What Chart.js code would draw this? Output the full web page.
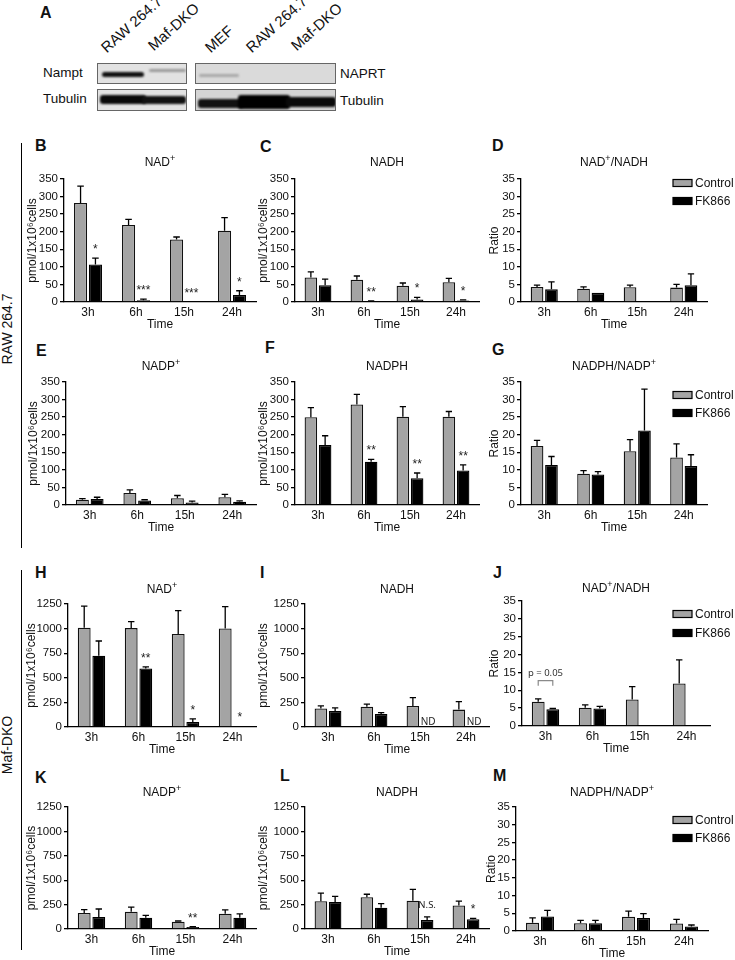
<!DOCTYPE html>
<html>
<head>
<meta charset="utf-8">
<script src="https://cdn.jsdelivr.net/npm/chart.js@4.4.0/dist/chart.umd.min.js"></script>
<style>
  body { margin: 0; background: #fff; }
  #fig { position: relative; width: 735px; height: 960px; overflow: hidden;
         font-family: "Liberation Sans", Arial, sans-serif; color: #111; }
  #fig canvas { position: absolute; }
  .tag { position: absolute; font-weight: bold; font-size: 16px; line-height: 1; }
  .lane { position: absolute; font-size: 15px; line-height: 1; white-space: nowrap;
          transform-origin: 0 100%; transform: rotate(-42deg); }
  .blotlbl { position: absolute; font-size: 13.5px; line-height: 1; white-space: nowrap; }
  .box { position: absolute; border: 1px solid #666; overflow: hidden; box-sizing: border-box; }
  .band { position: absolute; border-radius: 3px; filter: blur(0.8px); }
  .rowlbl { position: absolute; font-size: 14px; line-height: 1; white-space: nowrap;
            transform: translate(-50%, -50%) rotate(-90deg); }
  .vline { position: absolute; width: 1.3px; background: #000; }
</style>
</head>
<body>
<div id="fig">
  <!-- panel A: western blot -->
  <div class="tag" style="left:40px;top:5px">A</div>
  <div class="lane" style="left:108px;top:40px">RAW 264.7</div>
  <div class="lane" style="left:155px;top:38px">Maf-DKO</div>
  <div class="lane" style="left:212px;top:40px">MEF</div>
  <div class="lane" style="left:253px;top:40px">RAW 264.7</div>
  <div class="lane" style="left:298px;top:38px">Maf-DKO</div>
  <div class="blotlbl" style="left:43px;top:66px">Nampt</div>
  <div class="blotlbl" style="left:43px;top:92px">Tubulin</div>
  <div class="blotlbl" style="left:340px;top:67px">NAPRT</div>
  <div class="blotlbl" style="left:340px;top:94px">Tubulin</div>

  <div class="box" style="left:97px;top:63px;width:90px;height:21px;background:#e2e2e2">
    <div class="band" style="left:4px;top:8px;width:42px;height:5px;background:#111"></div>
    <div class="band" style="left:51px;top:5px;width:37px;height:3px;background:#9a9a9a"></div>
  </div>
  <div class="box" style="left:195px;top:63px;width:141px;height:21px;background:#dadada">
    <div class="band" style="left:3px;top:10px;width:40px;height:3px;background:#a8a8a8"></div>
  </div>
  <div class="box" style="left:97px;top:89px;width:90px;height:22px;background:#e2e2e2">
    <div class="band" style="left:2px;top:5px;width:46px;height:9px;background:#080808"></div>
    <div class="band" style="left:44px;top:6px;width:44px;height:8px;background:#111"></div>
  </div>
  <div class="box" style="left:195px;top:89px;width:141px;height:22px;background:#d4d4d4">
    <div class="band" style="left:2px;top:9px;width:45px;height:9px;background:#111"></div>
    <div class="band" style="left:42px;top:5px;width:52px;height:14px;background:#000"></div>
    <div class="band" style="left:90px;top:7px;width:50px;height:10px;background:#0a0a0a"></div>
  </div>

  <!-- row labels -->
  <div class="vline" style="left:21px;top:143px;height:405px"></div>
  <div class="rowlbl" style="left:7px;top:329px">RAW 264.7</div>
  <div class="vline" style="left:21px;top:570px;height:380px"></div>
  <div class="rowlbl" style="left:7px;top:745px">Maf-DKO</div>

  <!-- panel letters -->
  <div class="tag" style="left:35px;top:138px">B</div>
  <div class="tag" style="left:260px;top:139px">C</div>
  <div class="tag" style="left:492px;top:138px">D</div>
  <div class="tag" style="left:36px;top:343px">E</div>
  <div class="tag" style="left:265px;top:340px">F</div>
  <div class="tag" style="left:492px;top:342px">G</div>
  <div class="tag" style="left:35px;top:565px">H</div>
  <div class="tag" style="left:260px;top:565px">I</div>
  <div class="tag" style="left:493px;top:565px">J</div>
  <div class="tag" style="left:35px;top:770px">K</div>
  <div class="tag" style="left:280px;top:768px">L</div>
  <div class="tag" style="left:493px;top:768px">M</div>
</div>

<script>
const FONT = '"Liberation Sans", Arial, sans-serif';
Chart.defaults.font.family = FONT;

// categories / series
const timeLabels = ['3h', '6h', '15h', '24h'];
const seriesNames = ['Control', 'FK866'];
const pmolTitle = 'pmol/1x10⁶cells';
const ratioTitle = 'Ratio';

// RAW 264.7
const rawNadCtrl = [282, 219, 178, 203];
const rawNadCtrlErr = [48, 16, 7, 37];
const rawNadFk = [107, 5, 1, 20];
const rawNadFkErr = [18, 3, 0, 12];
const rawNadMarks = ['*', '***', '***', '*'];

const rawNadhCtrl = [70, 63, 46, 56];
const rawNadhCtrlErr = [16, 11, 8, 11];
const rawNadhFk = [48, 2, 7, 4];
const rawNadhFkErr = [17, 1, 6, 2];
const rawNadhMarks = ['', '**', '*', '*'];

const rawNadRatioCtrl = [4.3, 3.8, 4.2, 4.1];
const rawNadRatioCtrlErr = [0.5, 0.5, 0.6, 0.9];
const rawNadRatioFk = [3.6, 2.6, null, 4.8];
const rawNadRatioFkErr = [2.1, 0, 0, 3.2];

const rawNadpCtrl = [15, 34, 19, 22];
const rawNadpCtrlErr = [3, 9, 8, 8];
const rawNadpFk = [17, 13, 7, 9];
const rawNadpFkErr = [5, 2, 4, 3];

const rawNadphCtrl = [250, 286, 251, 251];
const rawNadphCtrlErr = [27, 29, 29, 15];
const rawNadphFk = [171, 123, 76, 98];
const rawNadphFkErr = [26, 7, 15, 16];
const rawNadphMarks = ['', '**', '**', '**'];

const rawNadpRatioCtrl = [16.8, 8.9, 15.3, 13.5];
const rawNadpRatioCtrlErr = [1.6, 0.9, 3.3, 3.9];
const rawNadpRatioFk = [11.4, 8.7, 21.2, 11.1];
const rawNadpRatioFkErr = [2.4, 0.8, 11.8, 3.2];

// Maf-DKO
const mafNadCtrl = [1009, 1005, 946, 1002];
const mafNadCtrlErr = [220, 66, 236, 221];
const mafNadFk = [724, 594, 51, 7];
const mafNadFkErr = [150, 17, 31, 0];
const mafNadMarks = ['', '**', '*', '*'];

const mafNadhCtrl = [188, 206, 214, 177];
const mafNadhCtrlErr = [27, 27, 85, 81];
const mafNadhFk = [163, 132, null, null];
const mafNadhFkErr = [31, 14, 0, 0];
const mafNadhMarks = ['', '', 'ND', 'ND'];

const mafNadRatioCtrl = [6.8, 5.1, 7.4, 11.9];
const mafNadRatioCtrlErr = [0.8, 0.8, 3.6, 6.6];
const mafNadRatioFk = [4.7, 4.9, null, null];
const mafNadRatioFkErr = [0.2, 0.6, 0, 0];
const mafPValueText = 'p = 0.05';
const mafPValueLevel = 12.7;

const mafNadpCtrl = [164, 178, 75, 157];
const mafNadpCtrlErr = [34, 47, 7, 38];
const mafNadpFk = [124, 116, 20, 116];
const mafNadpFkErr = [81, 24, 4, 38];
const mafNadpMarks = ['', '', '**', ''];

const mafNadphCtrl = [284, 326, 289, 242];
const mafNadphCtrlErr = [84, 30, 116, 44];
const mafNadphFk = [277, 219, 91, 101];
const mafNadphFkErr = [57, 40, 34, 7];
const mafNadphMarks = ['', '', 'N.S.', '*'];

const mafNadpRatioCtrl = [2.3, 2.2, 4.0, 2.1];
const mafNadpRatioCtrlErr = [1.4, 0.8, 1.6, 1.2];
const mafNadpRatioFk = [4.1, 2.2, 3.7, 1.3];
const mafNadpRatioFkErr = [1.7, 0.8, 1.2, 0.4];

// draws one-sided (upward) SEM bars
const errorBars = {
  id: 'errorBars',
  afterDatasetsDraw(chart) {
    const { ctx } = chart;
    const y = chart.scales.y;
    ctx.save();
    ctx.strokeStyle = '#000';
    ctx.lineWidth = 1.3;
    chart.data.datasets.forEach((ds, i) => {
      chart.getDatasetMeta(i).data.forEach((bar, j) => {
        const v = ds.data[j], e = ds.errors[j];
        if (v == null || !e) return;
        const top = y.getPixelForValue(v + e);
        const half = bar.width / 4;
        ctx.beginPath();
        ctx.moveTo(bar.x, bar.y);
        ctx.lineTo(bar.x, top);
        ctx.moveTo(bar.x - half, top);
        ctx.lineTo(bar.x + half, top);
        ctx.stroke();
      });
    });
    ctx.restore();
  }
};

// stars, N.S., ND over the FK866 bars
const markText = {
  id: 'markText',
  afterDatasetsDraw(chart) {
    const ds = chart.data.datasets[1];
    if (!ds.marks) return;
    const { ctx } = chart;
    const y = chart.scales.y;
    const meta0 = chart.getDatasetMeta(0);
    ctx.save();
    ctx.fillStyle = '#222';
    ctx.textAlign = 'center';
    ctx.textBaseline = 'alphabetic';
    chart.getDatasetMeta(1).data.forEach((bar, j) => {
      const m = ds.marks[j];
      if (!m) return;
      let x = bar.x;
      if (!isFinite(x)) x = meta0.data[j].x + meta0.data[j].width + 2;
      const v = ds.data[j];
      if (m === 'ND') {
        ctx.font = '10px "Noto Sans", sans-serif';
        ctx.fillText(m, x + 1, y.getPixelForValue(0) - 2);
      } else if (m === 'N.S.') {
        ctx.font = '9.5px "Noto Sans", sans-serif';
        ctx.fillText(m, x, y.getPixelForValue(v + ds.errors[j]) - 9);
      } else {
        ctx.font = '12px ' + FONT;
        ctx.fillText(m, x, y.getPixelForValue(v + ds.errors[j]) - 5);
      }
    });
    ctx.restore();
  }
};

// p-value bracket (panel J)
const bracket = {
  id: 'bracket',
  afterDatasetsDraw(chart, args, opts) {
    if (!opts.show) return;
    const { ctx } = chart;
    const y = chart.scales.y;
    const a = chart.getDatasetMeta(0).data[opts.index];
    const b = chart.getDatasetMeta(1).data[opts.index];
    const yb = y.getPixelForValue(opts.value);
    ctx.save();
    ctx.strokeStyle = '#8a8a8a';
    ctx.lineWidth = 1.2;
    ctx.beginPath();
    ctx.moveTo(a.x, yb + 5);
    ctx.lineTo(a.x, yb);
    ctx.lineTo(b.x, yb);
    ctx.lineTo(b.x, yb + 5);
    ctx.stroke();
    ctx.fillStyle = '#333';
    ctx.font = '9.5px "Noto Sans", sans-serif';
    ctx.textAlign = 'center';
    ctx.fillText(opts.text, (a.x + b.x) / 2, yb - 5);
    ctx.restore();
  }
};

// panel title with real superscript "+" (written as ^+)
const supTitle = {
  id: 'supTitle',
  afterDraw(chart, args, opts) {
    const { ctx, chartArea } = chart;
    const parts = opts.text.split(/(\^.)/).filter(Boolean);
    const big = '12px ' + FONT, small = '9px ' + FONT;
    let total = 0;
    parts.forEach(s => {
      ctx.font = s[0] === '^' ? small : big;
      total += ctx.measureText(s[0] === '^' ? s.slice(1) : s).width;
    });
    let x = (chartArea.left + chartArea.right) / 2 - total / 2;
    const base = opts.y + 4.5;
    ctx.save();
    ctx.fillStyle = '#111';
    ctx.textAlign = 'left';
    ctx.textBaseline = 'alphabetic';
    parts.forEach(s => {
      const sup = s[0] === '^';
      const t = sup ? s.slice(1) : s;
      ctx.font = sup ? small : big;
      ctx.fillText(t, x, sup ? base - 5 : base);
      x += ctx.measureText(t).width;
    });
    ctx.restore();
  }
};

// small legend in the upper right of the ratio panels
const sideLegend = {
  id: 'sideLegend',
  afterDraw(chart, args, opts) {
    if (!opts.show) return;
    const { ctx, chartArea } = chart;
    ctx.save();
    ctx.font = '12px ' + FONT;
    ctx.textBaseline = 'middle';
    chart.data.datasets.forEach((ds, i) => {
      const cy = chartArea.top + opts.rows[i];
      ctx.fillStyle = ds.backgroundColor;
      ctx.fillRect(opts.x, cy - 3.5, 19, 7);
      ctx.strokeStyle = '#000';
      ctx.lineWidth = 1.2;
      ctx.strokeRect(opts.x, cy - 3.5, 19, 7);
      ctx.fillStyle = '#111';
      ctx.fillText(ds.label, opts.x + 22, cy + 0.5);
    });
    ctx.restore();
  }
};

const pmol350 = { max: 350, step: 50, yTitle: pmolTitle };
const pmol1250 = { max: 1250, step: 250, yTitle: pmolTitle };
const ratio35 = { max: 35, step: 5, yTitle: ratioTitle };

const panels = [
  { title: 'NAD^+', axis: pmol350, ctrl: rawNadCtrl, ctrlErr: rawNadCtrlErr, fk: rawNadFk, fkErr: rawNadFkErr, marks: rawNadMarks,
    box: { left: 25, areaL: 64, areaR: 256, right: 262, top: 154, areaT: 179, areaB: 302 } },
  { title: 'NADH', axis: pmol350, ctrl: rawNadhCtrl, ctrlErr: rawNadhCtrlErr, fk: rawNadhFk, fkErr: rawNadhFkErr, marks: rawNadhMarks,
    box: { left: 256, areaL: 295, areaR: 479, right: 487, top: 154, areaT: 179, areaB: 302 } },
  { title: 'NAD^+/NADH', axis: ratio35, ctrl: rawNadRatioCtrl, ctrlErr: rawNadRatioCtrlErr, fk: rawNadRatioFk, fkErr: rawNadRatioFkErr,
    legend: [4, 22],
    box: { left: 487, areaL: 521, areaR: 707, right: 735, top: 154, areaT: 179, areaB: 302 } },
  { title: 'NADP^+', axis: pmol350, ctrl: rawNadpCtrl, ctrlErr: rawNadpCtrlErr, fk: rawNadpFk, fkErr: rawNadpFkErr,
    box: { left: 26, areaL: 66, areaR: 256, right: 262, top: 358, areaT: 382, areaB: 505 } },
  { title: 'NADPH', axis: pmol350, ctrl: rawNadphCtrl, ctrlErr: rawNadphCtrlErr, fk: rawNadphFk, fkErr: rawNadphFkErr, marks: rawNadphMarks,
    box: { left: 256, areaL: 295, areaR: 479, right: 487, top: 358, areaT: 382, areaB: 505 } },
  { title: 'NADPH/NADP^+', axis: ratio35, ctrl: rawNadpRatioCtrl, ctrlErr: rawNadpRatioCtrlErr, fk: rawNadpRatioFk, fkErr: rawNadpRatioFkErr,
    legend: [13, 31],
    box: { left: 487, areaL: 521, areaR: 707, right: 735, top: 358, areaT: 382, areaB: 505 } },
  { title: 'NAD^+', axis: pmol1250, ctrl: mafNadCtrl, ctrlErr: mafNadCtrlErr, fk: mafNadFk, fkErr: mafNadFkErr, marks: mafNadMarks,
    box: { left: 24, areaL: 68, areaR: 256, right: 262, top: 581, areaT: 604, areaB: 727 } },
  { title: 'NADH', axis: pmol1250, ctrl: mafNadhCtrl, ctrlErr: mafNadhCtrlErr, fk: mafNadhFk, fkErr: mafNadhFkErr, marks: mafNadhMarks,
    box: { left: 256, areaL: 305, areaR: 489, right: 495, top: 581, areaT: 604, areaB: 727 } },
  { title: 'NAD^+/NADH', axis: ratio35, ctrl: mafNadRatioCtrl, ctrlErr: mafNadRatioCtrlErr, fk: mafNadRatioFk, fkErr: mafNadRatioFkErr,
    legend: [13, 32], pBracket: { index: 0, value: mafPValueLevel, text: mafPValueText },
    box: { left: 487, areaL: 522, areaR: 710, right: 735, top: 580, areaT: 601, areaB: 726 } },
  { title: 'NADP^+', axis: pmol1250, ctrl: mafNadpCtrl, ctrlErr: mafNadpCtrlErr, fk: mafNadpFk, fkErr: mafNadpFkErr, marks: mafNadpMarks,
    box: { left: 24, areaL: 68, areaR: 256, right: 262, top: 784, areaT: 807, areaB: 929 } },
  { title: 'NADPH', axis: pmol1250, ctrl: mafNadphCtrl, ctrlErr: mafNadphCtrlErr, fk: mafNadphFk, fkErr: mafNadphFkErr, marks: mafNadphMarks,
    box: { left: 256, areaL: 305, areaR: 489, right: 495, top: 784, areaT: 807, areaB: 929 } },
  { title: 'NADPH/NADP^+', axis: ratio35, ctrl: mafNadpRatioCtrl, ctrlErr: mafNadpRatioCtrlErr, fk: mafNadpRatioFk, fkErr: mafNadpRatioFkErr,
    legend: [13, 31],
    box: { left: 484, areaL: 516, areaR: 708, right: 735, top: 784, areaT: 807, areaB: 931 } }
];

const fig = document.getElementById('fig');
const X_AXIS_H = 30;
const LEGEND_X = 673;

function makeChart(p) {
  const b = p.box;
  const w = b.right - b.left;
  const h = b.areaB + X_AXIS_H - b.top;
  const c = document.createElement('canvas');
  c.width = w; c.height = h;
  c.style.left = b.left + 'px';
  c.style.top = b.top + 'px';
  c.style.width = w + 'px';
  c.style.height = h + 'px';
  fig.appendChild(c);

  const barStyle = { borderWidth: 1.3, barPercentage: 0.88, categoryPercentage: 0.62 };

  new Chart(c, {
    type: 'bar',
    data: {
      labels: timeLabels,
      datasets: [
        { label: seriesNames[0], data: p.ctrl, errors: p.ctrlErr, backgroundColor: '#a4a4a4', borderColor: '#111', ...barStyle },
        { label: seriesNames[1], data: p.fk, errors: p.fkErr, marks: p.marks, backgroundColor: '#000', borderColor: '#000', ...barStyle }
      ]
    },
    options: {
      responsive: false,
      animation: false,
      devicePixelRatio: 1,
      layout: { padding: { left: 0, top: b.areaT - b.top, bottom: 0, right: b.right - b.areaR } },
      plugins: {
        legend: { display: false },
        tooltip: { enabled: false },
        title: { display: false },
        supTitle: { text: p.title, y: 7 },
        sideLegend: { show: !!p.legend, rows: p.legend, x: LEGEND_X - b.left },
        bracket: p.pBracket ? { show: true, ...p.pBracket } : { show: false }
      },
      scales: {
        x: {
          grid: { display: false, drawTicks: false },
          border: { display: true, color: '#000', width: 1.3 },
          ticks: { color: '#111', font: { size: 12 }, padding: 3 },
          title: { display: true, text: 'Time', color: '#111', font: { size: 12 }, padding: 0 },
          afterFit: s => { s.height = X_AXIS_H; }
        },
        y: {
          min: 0, max: p.axis.max,
          ticks: { stepSize: p.axis.step, color: '#111', font: { size: 11.5 }, padding: 2, callback: v => String(v) },
          grid: { drawOnChartArea: false, drawTicks: true, tickLength: 4, color: '#000', lineWidth: 1.3 },
          border: { display: true, color: '#000', width: 1.3 },
          title: { display: true, text: p.axis.yTitle, color: '#111', font: { size: 12 }, padding: 0 },
          afterFit: s => { s.width = b.areaL - b.left; }
        }
      }
    },
    plugins: [errorBars, markText, bracket, supTitle, sideLegend]
  });
}

panels.forEach(makeChart);
</script>
</body>
</html>
